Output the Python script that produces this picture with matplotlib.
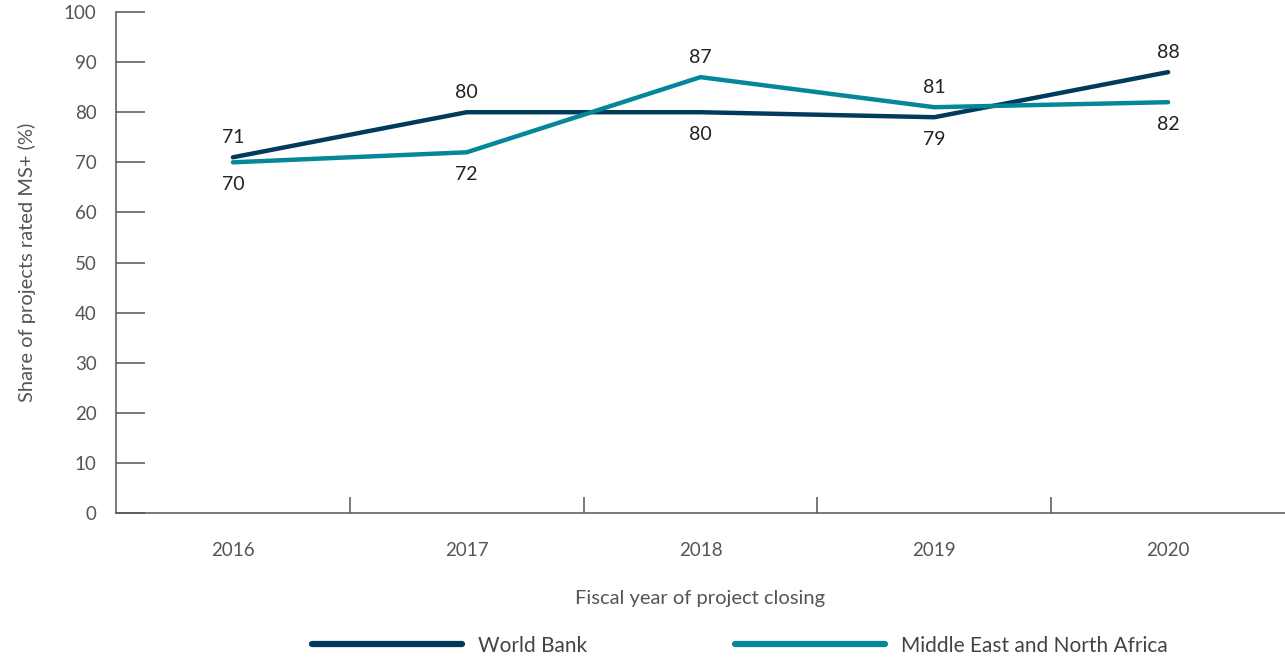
import matplotlib.pyplot as plt

years = ["2016", "2017", "2018", "2019", "2020"]
world_bank = [71, 80, 80, 79, 88]
mena = [70, 72, 87, 81, 82]
series_names = ["World Bank", "Middle East and North Africa"]
series_colors = ["#023a5c", "#05879a"]

plt.rcParams['font.family'] = ['Lato', 'DejaVu Sans']

fig = plt.figure(figsize=(12.85, 6.6), dpi=100)
ax = fig.add_axes([0.0903, 0.2227, 0.9097, 0.7591])

x = list(range(len(years)))
ax.plot(x, world_bank, color=series_colors[0], lw=3.2, label=series_names[0],
        solid_capstyle='round', solid_joinstyle='round')
ax.plot(x, mena, color=series_colors[1], lw=3.2, label=series_names[1],
        solid_capstyle='round', solid_joinstyle='round')

# labels go above the line that is higher at that year, below for the other
for i in x:
    for vals, other in [(world_bank, mena), (mena, world_bank)]:
        above = vals[i] >= other[i]
        ax.annotate(str(vals[i]), (i, vals[i]), xytext=(0, 14 if above else -16),
                    textcoords='offset points', ha='center', va='center',
                    fontsize=14, color='#222222')

ax.set_xlim(-0.5, len(years) - 0.5)
ax.set_ylim(0, 100)
ax.set_yticks(range(0, 101, 10))
ax.set_xticks(x)
ax.set_xticklabels(years)
ax.set_xticks([i + 0.5 for i in x[:-1]], minor=True)

ax.tick_params(axis='y', direction='in', length=21, width=1.1, color='#555555',
               labelsize=13.5, labelcolor='#555555', pad=14)
ax.tick_params(axis='x', which='major', length=0, labelsize=13.5,
               labelcolor='#555555', pad=21)
ax.tick_params(axis='x', which='minor', direction='in', length=11.5, width=1.1,
               color='#555555')

for s in ['top', 'right']:
    ax.spines[s].set_visible(False)
for s in ['left', 'bottom']:
    ax.spines[s].set_color('#555555')
    ax.spines[s].set_linewidth(1.1)

ax.set_xlabel("Fiscal year of project closing", fontsize=14.5, color='#555555', labelpad=22)
ax.set_ylabel("Share of projects rated MS+ (%)", fontsize=14.5, color='#555555', labelpad=20)

leg = fig.legend(loc='lower center', bbox_to_anchor=(0.576, -0.022), ncol=2, frameon=False,
                 fontsize=15, handlelength=7.2, handletextpad=0.77, columnspacing=7.1,
                 labelcolor='#444444')
for line in leg.get_lines():
    line.set_linewidth(4.5)

fig.savefig("out.png", dpi=100)
